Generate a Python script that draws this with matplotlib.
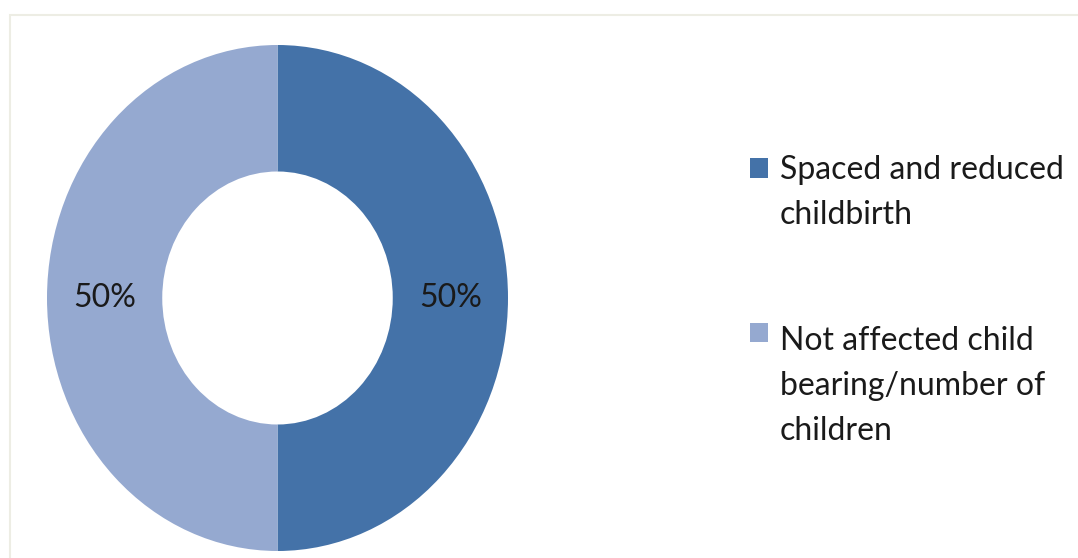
import matplotlib.pyplot as plt
from matplotlib.patches import Rectangle

# data
labels = ['Spaced and reduced\nchildbirth', 'Not affected child\nbearing/number of\nchildren']
values = [50, 50]
colors = ['#4472A8', '#95A9D0']

plt.rcParams['font.family'] = ['Lato', 'DejaVu Sans']

W, H = 1078, 558
fig = plt.figure(figsize=(W / 100, H / 100), dpi=100)

# light chart frame
fig.patches.append(Rectangle((10 / W, -0.1), 1.2, (H - 15) / H + 0.1,
                             transform=fig.transFigure, fill=False,
                             edgecolor='#EDEDE4', linewidth=1.5))

ax = fig.add_axes([47 / W, 7 / H, 461 / W, 506 / H])
wedges, texts, autotexts = ax.pie(values, colors=colors, startangle=90, counterclock=False,
                                  autopct='%d%%', pctdistance=0.75,
                                  wedgeprops=dict(width=0.5, linewidth=0),
                                  textprops=dict(fontsize=23, color='#1a1a1a'))
ax.set_aspect('auto')
ax.set_xlim(-1, 1)
ax.set_ylim(-1, 1)

# legend drawn by hand so the square sits on the first line
square_mid = [168, 332]
last_base = [224, 440]
for lab, col, ym, yb in zip(labels, colors, square_mid, last_base):
    fig.patches.append(Rectangle((750 / W, 1 - (ym + 9.5) / H), 18 / W, 19 / H,
                                 transform=fig.transFigure, facecolor=col, edgecolor='none'))
    fig.text(780 / W, 1 - yb / H, lab, fontsize=23, va='baseline', ha='left',
             linespacing=1.62, color='#1a1a1a')

fig.savefig('out.png', dpi=100)
